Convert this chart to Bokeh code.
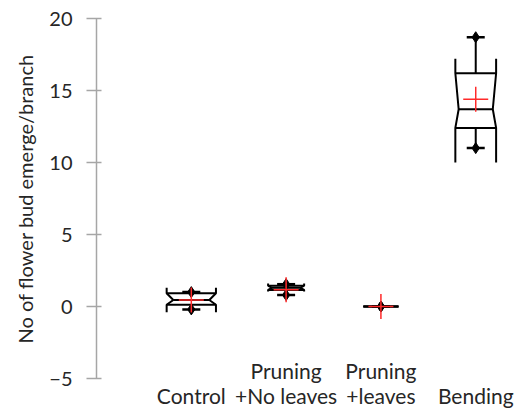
from bokeh.plotting import figure
from bokeh.models import Range1d, FixedTicker, Label, Title
from bokeh.embed import file_html
from bokeh.resources import INLINE

# ---- data ----
cat_line1 = ["", "Pruning", "Pruning", ""]
cat_line2 = ["Control", "+No leaves", "+leaves", "Bending"]
mins = [-0.2, 0.8, 0.0, 11.0]
q1s = [0.12, 1.15, 0.0, 12.4]
medians = [0.45, 1.3, 0.0, 13.7]
q3s = [0.92, 1.45, 0.0, 16.2]
maxs = [1.0, 1.55, 0.0, 18.7]
means = [0.45, 1.17, 0.0, 14.4]
notch_lo = [-0.4, 1.05, 0.0, 10.0]
notch_hi = [1.3, 1.6, 0.0, 17.2]
y_ticks = [-5, 0, 5, 10, 15, 20]
y_title = "No of flower bud emerge/branch"

# ---- style ----
box_w = [0.52, 0.38, 0.37, 0.43]
med_w = [0.38, 0.30, 0.37, 0.36]
FONT = "Lato"

xs_pos = [i + 1 for i in range(len(cat_line2))]

p = figure(width=516, height=410, output_backend="svg", toolbar_location=None,
           x_range=Range1d(0, 4.43), y_range=Range1d(-7.22, 20),
           min_border_left=89, min_border_right=0, min_border_top=18, min_border_bottom=0)
p.outline_line_color = None
p.grid.visible = False
p.xaxis.visible = False
p.background_fill_color = "white"
p.border_fill_color = "white"

ya = p.yaxis[0]
ya.bounds = (-5, 20)
ya.ticker = FixedTicker(ticks=y_ticks)
ya.axis_line_color = "#a6a6a6"
ya.axis_line_width = 1.5
ya.major_tick_line_color = "#a6a6a6"
ya.major_tick_line_width = 1.5
ya.major_tick_out = 10
ya.major_tick_in = 5
ya.minor_tick_line_color = None
ya.major_label_standoff = 14
ya.major_label_text_font = FONT
ya.major_label_text_font_size = "20px"
ya.major_label_text_color = "#262626"

t = Title(text=y_title, align="left", offset=67, standoff=20,
          text_font=FONT, text_font_size="20px", text_font_style="normal", text_color="#262626")
p.add_layout(t, "left")

# notched boxes
lx, ly = [], []
for i, x in enumerate(xs_pos):
    hw, hm = box_w[i] / 2, med_w[i] / 2
    for s in (-1, 1):
        lx.append([x + s * hw, x + s * hw, x + s * hm, x + s * hw, x + s * hw])
        ly.append([notch_hi[i], q3s[i], medians[i], q1s[i], notch_lo[i]])
    lx.append([x - hw, x + hw]); ly.append([q3s[i], q3s[i]])
    lx.append([x - hm, x + hm]); ly.append([medians[i], medians[i]])
    lx.append([x - hw, x + hw]); ly.append([q1s[i], q1s[i]])
    # whiskers
    lx.append([x, x]); ly.append([q3s[i], maxs[i]])
    lx.append([x, x]); ly.append([q1s[i], mins[i]])
p.multi_line(lx, ly, line_color="black", line_width=2)

# whisker ends
p.scatter(xs_pos + xs_pos, maxs + mins, marker="dash", size=18, line_color="black", line_width=2.5)
p.scatter(xs_pos + xs_pos, maxs + mins, marker="diamond", size=11, fill_color="black", line_color="black")

# means
p.scatter(xs_pos, means, marker="cross", size=25, line_color="#ff2a2a", line_width=1.5)

# category labels
for i, x in enumerate(xs_pos):
    for txt, yv in ((cat_line1[i], -4.45), (cat_line2[i], -6.2)):
        if txt:
            p.add_layout(Label(x=x, y=yv, text=txt, text_align="center", text_baseline="alphabetic",
                               text_font=FONT, text_font_size="21px", text_color="#262626"))

open("out.html", "w").write(file_html(p, INLINE))
